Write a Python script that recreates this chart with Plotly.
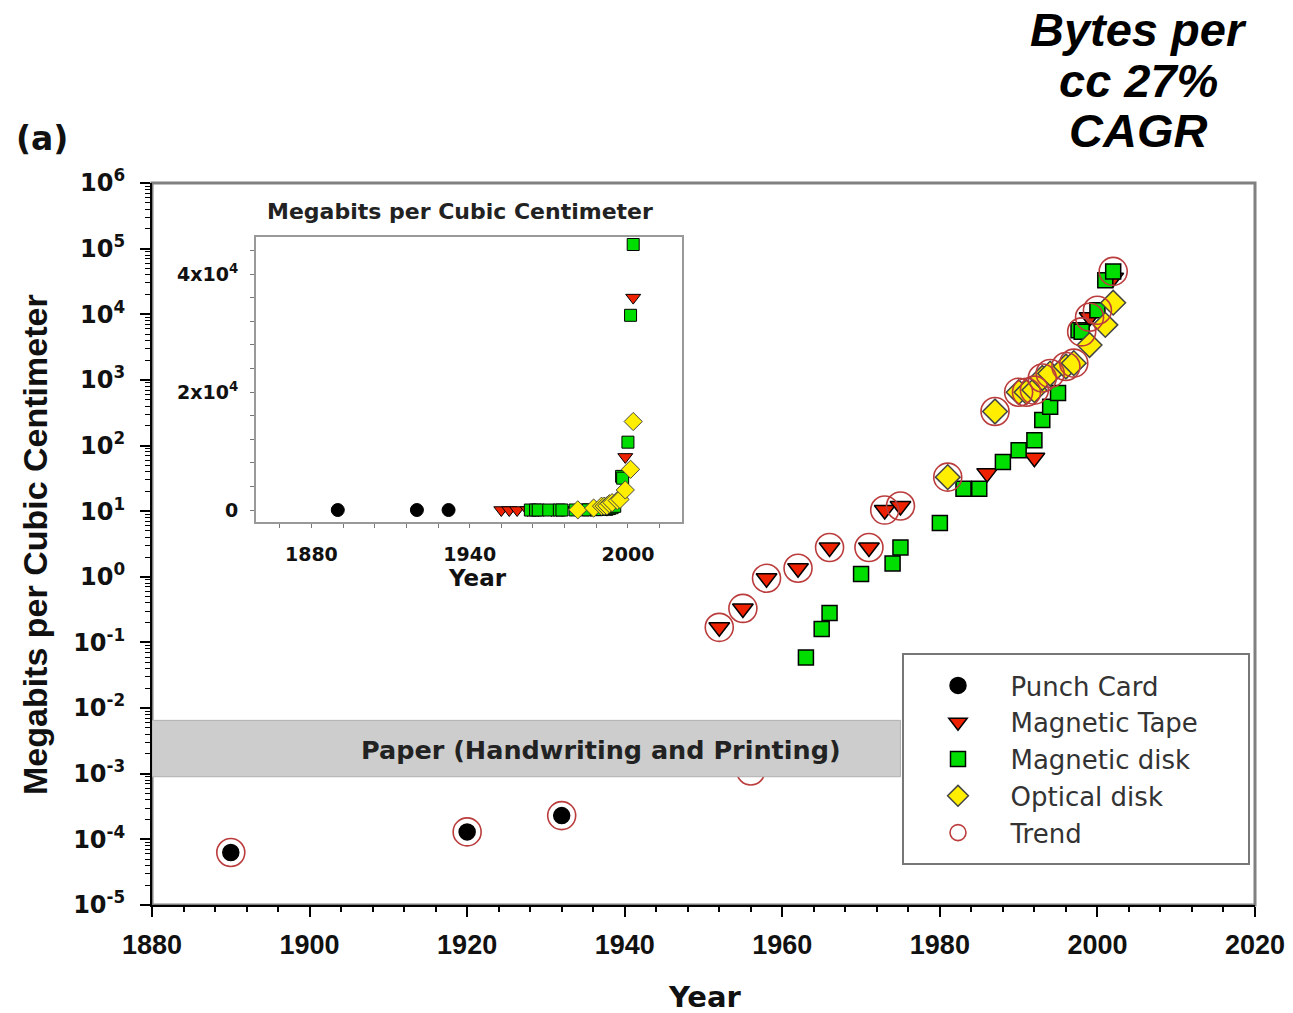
import plotly.graph_objects as go

# ---------------- data ----------------
punch_years = [1890, 1920, 1932]
punch_vals = [6.3e-5, 1.3e-4, 2.3e-4]

tape_years = [1952, 1955, 1958, 1962, 1966, 1971, 1973, 1975, 1986, 1992, 1999, 2002]
tape_vals = [0.17, 0.33, 0.95, 1.35, 2.8, 2.8, 10.4, 12, 38, 65, 9000, 36000]

disk_years = [1963, 1965, 1966, 1970, 1974, 1975, 1980, 1983, 1985, 1988, 1990, 1992,
              1993, 1994, 1995, 1997.6, 1998, 2000, 2001, 2002]
disk_vals = [0.059, 0.16, 0.28, 1.1, 1.6, 2.8, 6.6, 22, 22, 56, 85, 120,
             245, 390, 630, 5700, 5400, 11500, 33000, 45000]

optical_years = [1981, 1987, 1990, 1991, 1992, 1993, 1994, 1996, 1997, 1999, 2001, 2002]
optical_vals = [33, 330, 650, 650, 700, 1070, 1250, 1600, 1800, 3400, 6900, 15000]

trend_years = [1890, 1920, 1932, 1952, 1955, 1956, 1958, 1962, 1966, 1971, 1973, 1975,
               1981, 1987, 1990, 1991, 1992, 1993, 1994, 1996, 1997, 1998, 1999, 2000, 2002]
trend_vals = [6.3e-5, 1.3e-4, 2.3e-4, 0.17, 0.33, 1.1e-3, 0.95, 1.35, 2.8, 2.8, 10.4, 12,
              33, 330, 650, 650, 700, 1070, 1250, 1600, 1800, 5400, 9000, 11500, 45000]

paper_band_years = [1880, 1975]
paper_band_vals = [9e-4, 6.5e-3]

main_x_ticks = [1880, 1900, 1920, 1940, 1960, 1980, 2000, 2020]
main_y_exps = list(range(-5, 7))
inset_x_ticks = [1880, 1940, 2000]
inset_y_ticks = [0, 20000, 40000]
inset_y_labels = ["0", "2x10<sup>4</sup>", "4x10<sup>4</sup>"]

# ---------------- styles ----------------
W, H = 1293, 1013
DJB = "DejaVu Sans"
LIB = "Liberation Sans, Arial"
RED = "#ee2200"
GREEN = "#00dd00"
YELLOW = "#ffee00"
TREND = "#bb3c3c"
PAD = "\u2003\u2005"

fig = go.Figure()

series = [
    ("Magnetic Tape", tape_years, tape_vals, "triangle-down", RED, "#000", 18, 13, 2),
    ("Magnetic disk", disk_years, disk_vals, "square", GREEN, "#000", 15, 12, 3),
    ("Optical disk", optical_years, optical_vals, "diamond", YELLOW, "#444", 19, 14, 4),
    ("Punch Card", punch_years, punch_vals, "circle", "#000", "#000", 16, 13, 1),
]

# main traces
for name, xs, ys, sym, fill, lc, sz, isz, rank in series:
    fig.add_trace(go.Scatter(
        x=xs, y=ys, mode="markers", name=PAD + name, legendrank=rank,
        marker=dict(symbol=sym, color=fill, size=sz, line=dict(color=lc, width=1.5)),
        xaxis="x", yaxis="y"))

fig.add_trace(go.Scatter(
    x=trend_years, y=trend_vals, mode="markers", name=PAD + "Trend", legendrank=5,
    marker=dict(symbol="circle-open", color=TREND, size=28, line=dict(color=TREND, width=1.6)),
    xaxis="x", yaxis="y"))

# inset traces (linear scale)
for name, xs, ys, sym, fill, lc, sz, isz, rank in series:
    fig.add_trace(go.Scatter(
        x=xs, y=ys, mode="markers", name=name, showlegend=False,
        marker=dict(symbol=sym, color=fill, size=isz, line=dict(color=lc, width=1)),
        xaxis="x2", yaxis="y2"))

# ---------------- layout ----------------
x0p, x1p = 152 / W, 1255 / W
y0p, y1p = (H - 905) / H, (H - 183) / H
ix0, ix1 = 256 / W, 682 / W
iy0, iy1 = (H - 522) / H, (H - 237) / H

fig.update_layout(
    width=W, height=H, autosize=False,
    margin=dict(l=0, r=0, t=0, b=0, autoexpand=False),
    paper_bgcolor="white", plot_bgcolor="white",
    font=dict(family=LIB, color="#000"),
    xaxis=dict(
        domain=[x0p, x1p], range=[1880, 2020], tickvals=main_x_ticks, automargin=False,
        ticks="outside", ticklen=10, tickwidth=2, tickcolor="#000",
        minor=dict(dtick=4, tick0=1880, ticks="outside", ticklen=5, tickwidth=1.5, tickcolor="#000"),
        showline=True, linecolor="#000", linewidth=2, showgrid=False, zeroline=False,
        tickfont=dict(family=LIB, size=27, weight="bold", color="#111"),
        ticklabelstandoff=5,
    ),
    yaxis=dict(
        domain=[y0p, y1p], type="log", range=[-5, 6], automargin=False,
        tickvals=[10 ** e for e in main_y_exps],
        ticktext=["10<sup>%d</sup>" % e for e in main_y_exps],
        ticks="outside", ticklen=10, tickwidth=2, tickcolor="#000",
        minor=dict(dtick="D1", ticks="outside", ticklen=5, tickwidth=1, tickcolor="#000"),
        showline=True, linecolor="#000", linewidth=2, showgrid=False, zeroline=False,
        tickfont=dict(family=DJB, size=24, weight="bold", color="#111"),
        ticklabelstandoff=10,
    ),
    xaxis2=dict(
        domain=[ix0, ix1], anchor="y2", range=[1859, 2020.5], tickvals=inset_x_ticks,
        automargin=False,
        ticks="outside", ticklen=4, tickwidth=1, tickcolor="#777",
        minor=dict(dtick=12, tick0=1880, ticks="outside", ticklen=4, tickwidth=1, tickcolor="#777"),
        showline=True, mirror=True, linecolor="#999", linewidth=2, showgrid=False, zeroline=False,
        tickfont=dict(family=DJB, size=19, weight="bold", color="#111"),
        ticklabelstandoff=10,
    ),
    yaxis2=dict(
        domain=[iy0, iy1], anchor="x2", range=[-2030, 46270], automargin=False,
        tickvals=inset_y_ticks, ticktext=inset_y_labels,
        ticks="outside", ticklen=4, tickwidth=1, tickcolor="#777",
        minor=dict(dtick=4000, tick0=0, ticks="outside", ticklen=4, tickwidth=1, tickcolor="#777"),
        showline=True, mirror=True, linecolor="#999", linewidth=2, showgrid=False, zeroline=False,
        tickfont=dict(family=DJB, size=19, weight="bold", color="#111"),
        ticklabelstandoff=8,
    ),
    legend=dict(
        x=938 / W, y=(H - 662) / H, xanchor="left", yanchor="top",
        bgcolor="rgba(255,255,255,0)", borderwidth=0,
        font=dict(family=DJB, size=26, color="#333"),
        itemsizing="trace", tracegroupgap=0,
    ),
    showlegend=True,
)

# frame (top/right in gray), legend box and paper band
fig.add_shape(type="rect", xref="x domain", yref="y domain", x0=0, x1=1, y0=0, y1=1,
              line=dict(color="#808080", width=3), layer="below")
fig.add_shape(type="rect", xref="paper", yref="paper",
              x0=903 / W, x1=1249 / W, y0=(H - 864) / H, y1=(H - 654) / H,
              fillcolor="white", line=dict(color="#777", width=2), layer="below")
fig.add_shape(type="rect", xref="x", yref="y",
              x0=paper_band_years[0], x1=paper_band_years[1],
              y0=paper_band_vals[0], y1=paper_band_vals[1],
              fillcolor="#cdcdcd", line=dict(color="#b0b0b0", width=1), layer="above")


def note(text, x, y, size, family=DJB, xref="paper", yref="paper", **kw):
    if xref == "paper":
        x = x / W
    if yref == "paper":
        y = (H - y) / H
    f = dict(family=family, size=size, weight="bold", color=kw.pop("color", "#111"))
    if "style" in kw:
        f["style"] = kw.pop("style")
    return dict(text=text, x=x, y=y, xref=xref, yref=yref, showarrow=False,
                xanchor="center", yanchor="middle", font=f, **kw)


ann = [
    note("Paper (Handwriting and Printing)", 1937, -2.64, 25.5, xref="x", yref="y", color="#222"),
    note("Megabits per Cubic Centimeter", 460, 212, 22, color="#222"),
    note("Year", 478, 578, 23),
    note("Year", 705, 997, 29),
    note("Megabits per Cubic Centimeter", 35, 545, 34, family=LIB, textangle=-90),
    note("(a)", 42, 138, 33),
]
for txt, yc in [("Bytes per", 30), ("cc 27%", 80), ("CAGR", 131)]:
    ann.append(note(txt, 1138, yc, 47, family=LIB, style="italic", color="#000"))
fig.update_layout(annotations=ann)

fig.write_html("out.html", config={"displayModeBar": False},
               post_script="document.body.style.margin='0';document.body.style.padding='0';")
